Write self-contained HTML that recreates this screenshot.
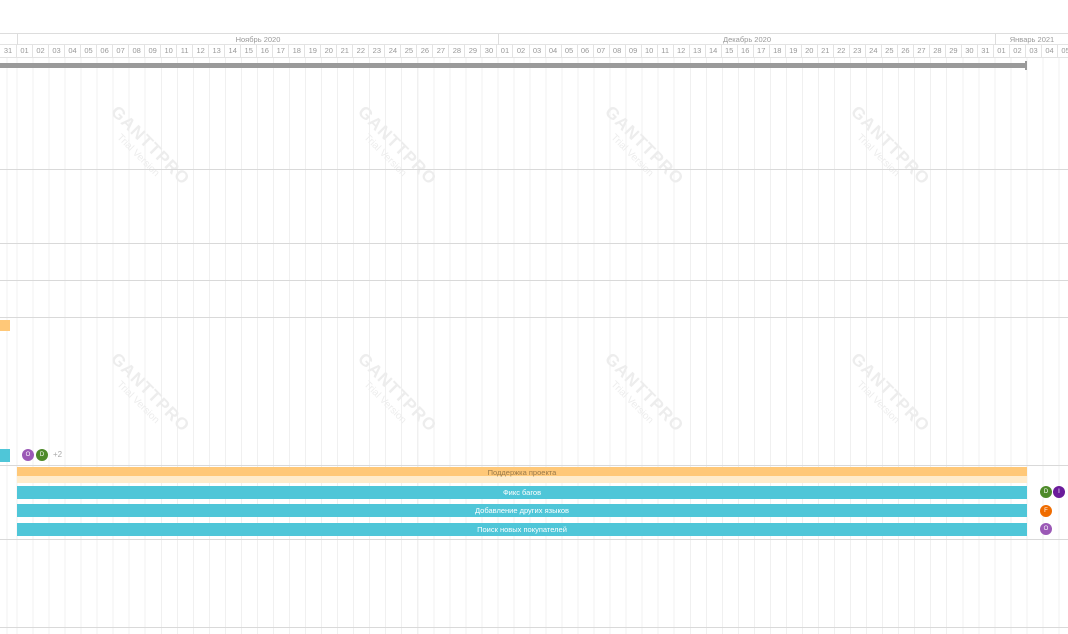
<!DOCTYPE html>
<html><head><meta charset="utf-8"><style>
html,body{margin:0;width:1068px;height:634px;overflow:hidden;background:#fff}
#w{position:relative;width:1068px;height:634px;overflow:hidden;font-family:"Liberation Sans",sans-serif}
.grid{position:absolute;left:0;top:57px;width:1068px;height:577px;background:repeating-linear-gradient(90deg,#f0f0f0 0,#f0f0f0 1px,transparent 1px,transparent 16.03px);background-position:16.5px 0}
.hl{position:absolute;left:0;width:1068px;height:1px;background:#d9d9d9}
.months{position:absolute;top:33px;left:0;width:1068px;height:12px;border-top:1px solid #ddd;border-bottom:1px solid #e3e3e3;box-sizing:border-box}
.m{position:absolute;top:0;height:11px;border-left:1px solid #ddd;font-size:7.5px;color:#999;text-align:center;line-height:11px}
.days{position:absolute;top:45px;left:0;height:12px;display:flex;border-bottom:1px solid #e3e3e3;width:1068px;overflow:hidden}
.days span{flex:0 0 16.03px;box-sizing:border-box;border-right:1px solid #e3e3e3;font-size:7.5px;color:#999;text-align:center;line-height:12px}
.days span:first-child{flex-basis:17px}
.bar{position:absolute;left:17px;width:1010px;height:13px;background:#4fc6d8;color:#fff;font-size:7.5px;text-align:center;line-height:13px}
.av{position:absolute;width:12px;height:12px;border-radius:50%;color:#fff;font-size:6px;text-align:center;line-height:12px}
.wm{position:absolute;transform:rotate(45deg);color:#ededed;text-align:center;width:100px}
.wm b{display:block;font-size:17px;letter-spacing:1px}
.wm i{display:block;font-size:10px;font-style:normal}
</style></head><body><div id="w">
<div class="grid"></div>
<div class="wm" style="left:95px;top:133px"><b>GANTTPRO</b><i>Trial Version</i></div>
<div class="wm" style="left:342px;top:133px"><b>GANTTPRO</b><i>Trial Version</i></div>
<div class="wm" style="left:589px;top:133px"><b>GANTTPRO</b><i>Trial Version</i></div>
<div class="wm" style="left:835px;top:133px"><b>GANTTPRO</b><i>Trial Version</i></div>
<div class="wm" style="left:95px;top:380px"><b>GANTTPRO</b><i>Trial Version</i></div>
<div class="wm" style="left:342px;top:380px"><b>GANTTPRO</b><i>Trial Version</i></div>
<div class="wm" style="left:589px;top:380px"><b>GANTTPRO</b><i>Trial Version</i></div>
<div class="wm" style="left:835px;top:380px"><b>GANTTPRO</b><i>Trial Version</i></div>
<div class="months">
<div class="m" style="left:17px;width:480px">Ноябрь 2020</div>
<div class="m" style="left:498px;width:496px">Декабрь 2020</div>
<div class="m" style="left:995px;width:72px">Январь 2021</div>
</div>
<div class="days"><span>31</span><span>01</span><span>02</span><span>03</span><span>04</span><span>05</span><span>06</span><span>07</span><span>08</span><span>09</span><span>10</span><span>11</span><span>12</span><span>13</span><span>14</span><span>15</span><span>16</span><span>17</span><span>18</span><span>19</span><span>20</span><span>21</span><span>22</span><span>23</span><span>24</span><span>25</span><span>26</span><span>27</span><span>28</span><span>29</span><span>30</span><span>01</span><span>02</span><span>03</span><span>04</span><span>05</span><span>06</span><span>07</span><span>08</span><span>09</span><span>10</span><span>11</span><span>12</span><span>13</span><span>14</span><span>15</span><span>16</span><span>17</span><span>18</span><span>19</span><span>20</span><span>21</span><span>22</span><span>23</span><span>24</span><span>25</span><span>26</span><span>27</span><span>28</span><span>29</span><span>30</span><span>31</span><span>01</span><span>02</span><span>03</span><span>04</span><span>05</span></div>
<div style="position:absolute;left:0;top:63px;width:1027px;height:5px;background:#9a9a9a"></div>
<div style="position:absolute;left:1025px;top:61px;width:2px;height:9px;background:#9a9a9a"></div>
<div class="hl" style="top:169px"></div>
<div class="hl" style="top:243px"></div>
<div class="hl" style="top:280px"></div>
<div class="hl" style="top:317px"></div>
<div class="hl" style="top:465px"></div>
<div class="hl" style="top:539px"></div>
<div class="hl" style="top:627px"></div>
<div style="position:absolute;left:0;top:320px;width:10px;height:11px;background:#ffc878"></div>
<div style="position:absolute;left:0;top:449px;width:10px;height:13px;background:#4fc6d8"></div>
<div class="av" style="left:22px;top:449px;background:#9b59b6">O</div>
<div class="av" style="left:36px;top:449px;background:#4e8a2a">D</div>
<div style="position:absolute;left:53px;top:450px;font-size:8px;color:#aaa">+2</div>
<div style="position:absolute;left:17px;top:476px;width:1010px;height:7px;background:#ffeccc"></div>
<div style="position:absolute;left:17px;top:467px;width:1010px;height:9px;background:#ffc878;color:#9a7a4a;font-size:7.5px;text-align:center;line-height:12px;overflow:visible">Поддержка проекта</div>
<div class="bar" style="top:486px">Фикс багов</div>
<div class="bar" style="top:504px">Добавление других языков</div>
<div class="bar" style="top:523px">Поиск новых покупателей</div>
<div class="av" style="left:1040px;top:486px;background:#4e8a2a">D</div>
<div class="av" style="left:1053px;top:486px;background:#6a1b9a">I</div>
<div class="av" style="left:1040px;top:505px;background:#ef6c00">F</div>
<div class="av" style="left:1040px;top:523px;background:#9b59b6">O</div>
</div></body></html>
